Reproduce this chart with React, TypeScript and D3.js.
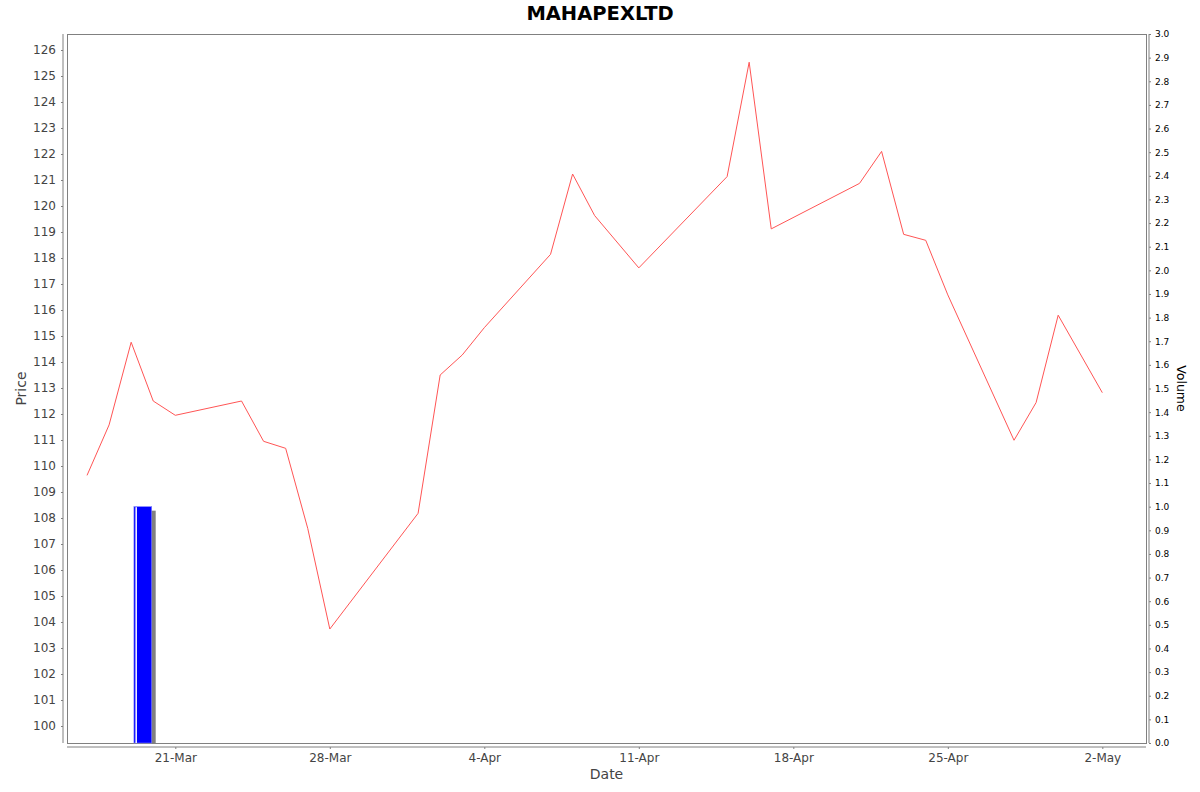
import React, { useEffect, useRef } from 'react';
import * as d3 from 'd3';

// Daily closing prices (2025)
const dates = [
  '2025-03-17', '2025-03-18', '2025-03-19', '2025-03-20', '2025-03-21',
  '2025-03-24', '2025-03-25', '2025-03-26', '2025-03-27', '2025-03-28',
  '2025-04-01', '2025-04-02', '2025-04-03', '2025-04-04',
  '2025-04-07', '2025-04-08', '2025-04-09', '2025-04-11',
  '2025-04-15', '2025-04-16', '2025-04-17',
  '2025-04-21', '2025-04-22', '2025-04-23', '2025-04-24', '2025-04-25',
  '2025-04-28', '2025-04-29', '2025-04-30', '2025-05-02',
];
const prices = [
  109.64, 111.58, 114.76, 112.5, 111.95,
  112.5, 110.95, 110.68, 107.6, 103.73,
  108.18, 113.5, 114.27, 115.32,
  118.14, 121.23, 119.63, 117.62,
  121.13, 125.53, 119.12,
  120.87, 122.1, 118.91, 118.68, 116.58,
  110.99, 112.44, 115.8, 112.82,
];

const volumeDates = ['2025-03-19'];
const volumes = [1.0];

const xTickDates = ['2025-03-21', '2025-03-28', '2025-04-04', '2025-04-11', '2025-04-18', '2025-04-25', '2025-05-02'];
const priceTicks = d3.range(100, 127, 1);
const volumeTicks = d3.range(0, 31).map(i => i / 10);

const W = 1200;
const H = 792;
const plot = { left: 67, right: 1146, top: 34, bottom: 743 };
const font = '"DejaVu Sans", sans-serif';

const App: React.FC = () => {
  const svgRef = useRef<SVGSVGElement>(null);

  useEffect(() => {
    if (!svgRef.current) return;
    const svg = d3.select(svgRef.current);
    svg.selectAll('*').remove();

    const parse = d3.utcParse('%Y-%m-%d');
    const line = dates.map((d, i) => ({ date: parse(d)!, price: prices[i] }));
    const vols = volumeDates.map((d, i) => ({ date: parse(d)!, volume: volumes[i] }));

    // scales
    const x = d3.scaleUtc()
      .domain([new Date(Date.UTC(2025, 2, 16, 2, 14)), new Date(Date.UTC(2025, 4, 3, 23, 30))])
      .range([plot.left, plot.right]);
    const yPrice = d3.scaleLinear()
      .domain([100 - 17 / 26, 126 + 16 / 26])
      .range([plot.bottom, plot.top]);
    const yVol = d3.scaleLinear()
      .domain([0, 3])
      .range([plot.bottom, plot.top]);

    svg.append('rect').attr('width', W).attr('height', H).attr('fill', '#fff');

    // title
    svg.append('text')
      .attr('x', 600).attr('y', 20)
      .attr('text-anchor', 'middle')
      .style('font-family', font).style('font-size', '19.5px').style('font-weight', 'bold')
      .attr('fill', '#000')
      .text('MAHAPEXLTD');

    // plot border
    svg.append('rect')
      .attr('x', plot.left).attr('y', plot.top)
      .attr('width', plot.right - plot.left).attr('height', plot.bottom - plot.top)
      .attr('fill', '#fff').attr('stroke', '#808080').attr('stroke-width', 1)
      .attr('shape-rendering', 'crispEdges');

    // volume bars (with shadow)
    const bars = svg.append('g');
    vols.forEach(v => {
      const x0 = x(d3.utcMinute.offset(v.date, 180));
      const x1 = x(d3.utcMinute.offset(v.date, 1340));
      const yTop = yVol(v.volume);
      bars.append('rect')
        .attr('x', x0 + 4).attr('y', yTop + 4)
        .attr('width', x1 - x0).attr('height', plot.bottom - yTop - 4)
        .attr('fill', '#808080');
      bars.append('rect')
        .attr('x', x0).attr('y', yTop)
        .attr('width', x1 - x0).attr('height', plot.bottom - yTop)
        .attr('fill', '#0000ff').attr('stroke', '#8080ff').attr('stroke-width', 0.6);
      bars.append('rect')
        .attr('x', x0 + 1.5).attr('y', yTop + 0.5)
        .attr('width', 1.5).attr('height', plot.bottom - yTop - 0.5)
        .attr('fill', '#ffffff');
    });

    // price line
    const path = d3.line<{ date: Date; price: number }>()
      .x(d => x(d.date))
      .y(d => yPrice(d.price));
    svg.append('path')
      .datum(line)
      .attr('d', path)
      .attr('fill', 'none')
      .attr('stroke', '#ff5555')
      .attr('stroke-width', 1);

    // left axis (price)
    const left = svg.append('g').attr('transform', `translate(63,0)`);
    left.call(d3.axisLeft(yPrice).tickValues(priceTicks).tickSize(2).tickPadding(5).tickFormat(d3.format('d')))
      .call(g => g.select('.domain').remove());
    left.append('line').attr('x1', 0).attr('x2', 0).attr('y1', plot.top).attr('y2', plot.bottom)
      .attr('stroke', '#808080');
    left.selectAll('.tick line').attr('stroke', '#808080');
    left.selectAll('.tick text')
      .attr('fill', '#444').style('font-family', font).style('font-size', '12px');

    // right axis (volume)
    const right = svg.append('g').attr('transform', `translate(1149,0)`);
    right.call(d3.axisRight(yVol).tickValues(volumeTicks).tickSize(2).tickPadding(4).tickFormat(d3.format('.1f')))
      .call(g => g.select('.domain').remove());
    right.append('line').attr('x1', 0).attr('x2', 0).attr('y1', plot.top).attr('y2', plot.bottom)
      .attr('stroke', '#808080');
    right.selectAll('.tick line').attr('stroke', '#808080');
    right.selectAll('.tick text')
      .attr('fill', '#000').style('font-family', font).style('font-size', '9px');

    // bottom axis (date)
    const bottom = svg.append('g').attr('transform', `translate(0,747)`);
    bottom.call(d3.axisBottom(x).tickValues(xTickDates.map(d => parse(d)!)).tickSize(2).tickPadding(4)
      .tickFormat(d => d3.utcFormat('%-d-%b')(d as Date)))
      .call(g => g.select('.domain').remove());
    bottom.append('line').attr('x1', plot.left).attr('x2', plot.right).attr('y1', 0).attr('y2', 0)
      .attr('stroke', '#808080');
    bottom.selectAll('.tick line').attr('stroke', '#808080');
    bottom.selectAll('.tick text')
      .attr('fill', '#444').style('font-family', font).style('font-size', '12px');

    // axis labels
    const midY = (plot.top + plot.bottom) / 2;
    svg.append('text')
      .attr('transform', `translate(25.5,${midY}) rotate(-90)`)
      .attr('text-anchor', 'middle')
      .style('font-family', font).style('font-size', '14px')
      .attr('fill', '#444')
      .text('Price');
    svg.append('text')
      .attr('transform', `translate(1177,${midY}) rotate(90)`)
      .attr('text-anchor', 'middle')
      .style('font-family', font).style('font-size', '12.5px')
      .attr('fill', '#000')
      .text('Volume');
    svg.append('text')
      .attr('x', (plot.left + plot.right) / 2).attr('y', 779)
      .attr('text-anchor', 'middle')
      .style('font-family', font).style('font-size', '14px')
      .attr('fill', '#444')
      .text('Date');
  }, []);

  return (
    <svg
      ref={svgRef}
      width={W}
      height={H}
      style={{ position: 'absolute', left: 0, top: 0 }}
    />
  );
};

export default App;
